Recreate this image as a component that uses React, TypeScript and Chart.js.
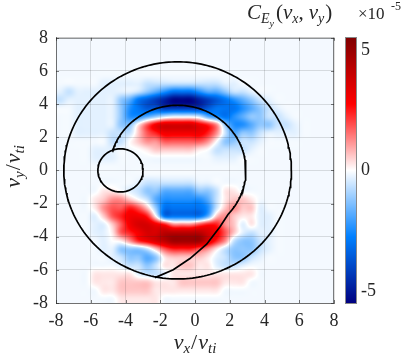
import React, { useEffect, useRef } from 'react';
import { Chart, registerables } from 'chart.js';

Chart.register(...registerables);

// ---------- data ----------
const AXIS_TICKS = [-8, -6, -4, -2, 0, 2, 4, 6, 8];
const CB_TICKS = [-5, 0, 5];
const CB_MIN = -5.5;
const CB_MAX = 5.5;
const CB_EXPONENT = '-5';

// correlation grid, cell centres x = -7.75..7.75, y = 7.75 (first row) .. -7.75 (last row), step 0.5
// '.' = -0.12, 'q' = -0.3, 'p' = 0.25, '0'..'9' = 0.6*k, 'a'..'i' = -0.6*k   (units of 1e-5)
const GRID_X_FIRST = -7.75;
const GRID_Y_FIRST = 7.75;
const GRID_STEP = 0.5;
const CORR_ROWS = [
  '................................',
  '................................',
  '................................',
  '................................',
  '................................',
  '.....qqqqqaaaaaaaaaqq...........',
  'qaqqqqqqqabcdeeedccbaaq.........',
  'aqqqqqqbcefghiiihgfedcbaq.......',
  '..qqqqqbdeffgggggfeeedcbaq......',
  '..qqqqqbddcbaqqqacdedcbbaaq.....',
  '..qqqqqbbp356666542bddcbbaaq....',
  '..qqqqaaa1345555542acbbaqqqq....',
  '......aa01223333320bbaaq........',
  '....qqq..0p11111p0aaaaq.........',
  '....qqq...........qqq...........',
  '................................',
  '................................',
  '.........qaaaaaaqq..............',
  '.....pp0qabbccccbbapp...........',
  '....p12210acdddddcap11p.........',
  '....p233431beeeeeda1211q........',
  '....q1345540eeeeec121ppqq.......',
  '....qq135665422234421qpqq.......',
  '....qqp34566777776531qaqq.......',
  '.....q0p245678888642abbaq.......',
  '.....qqbbba1344432pabbbaq.......',
  '......qabbcbp1111pqabbaq........',
  '.......qaabapp11ppqaaq..........',
  '....pppppqaaqpppppppppp.........',
  '....ppp1111ppp11111ppp..........',
  '.....pp1111pppppppp.............',
  '.......ppppp....................',
];

// overlay curves (data units)
const BIG_CIRCLE = { cx: -1, cy: 0, r: 6.55 };
const SMALL_CIRCLE = { cx: -4.29, cy: 0, r: 1.3 };
const INNER_ARC = { cx: -1, cy: 0, r: 3.93, fromDeg: 163, toDeg: -42 };
const INNER_TAIL_X = [1.92, 1.44, 0.67, -0.29, -1.25, -2.3];
const INNER_TAIL_Y = [-2.63, -3.4, -4.45, -5.32, -5.99, -6.47];

// ---------- helpers ----------
function levelOf(ch: string): number {
  if (ch === '.') return -0.12;
  if (ch === 'q') return -0.3;
  if (ch === 'p') return 0.25;
  if (ch >= '0' && ch <= '9') return 0.6 * Number(ch);
  const k = ch.charCodeAt(0) - 96;
  return -0.6 * k;
}
const GRID: number[][] = CORR_ROWS.map((row) => row.split('').map(levelOf));
const NR = GRID.length;
const NC = GRID[0].length;

function cell(r: number, c: number): number {
  const rr = Math.max(0, Math.min(NR - 1, r));
  const cc = Math.max(0, Math.min(NC - 1, c));
  return GRID[rr][cc];
}
function cubic(p0: number, p1: number, p2: number, p3: number, t: number): number {
  return p1 + 0.5 * t * (p2 - p0 + t * (2 * p0 - 5 * p1 + 4 * p2 - p3 + t * (3 * (p1 - p2) + p3 - p0)));
}
function sampleGrid(gx: number, gy: number): number {
  const i = Math.floor(gx), j = Math.floor(gy);
  const fx = gx - i, fy = gy - j;
  const rows: number[] = [];
  for (let m = -1; m <= 2; m++) {
    rows.push(cubic(cell(j + m, i - 1), cell(j + m, i), cell(j + m, i + 1), cell(j + m, i + 2), fx));
  }
  return cubic(rows[0], rows[1], rows[2], rows[3], fy);
}

function cmap(v: number): [number, number, number] {
  let t = Math.max(-1, Math.min(1, v / CB_MAX));
  if (t >= 0) {
    if (t <= 0.5) {
      const f = t / 0.5;
      return [255, 255 * (1 - f), 255 * (1 - f)];
    }
    const f = (t - 0.5) / 0.5;
    return [255 - 127 * f, 0, 0];
  }
  t = -t;
  if (t <= 0.5) {
    const f = t / 0.5;
    return [255 * (1 - f), 255 - 127 * f, 255];
  }
  const f = (t - 0.5) / 0.5;
  return [0, 128 * (1 - f), 255 - 127 * f];
}

function circlePoints(cx: number, cy: number, r: number, a0: number, a1: number, n: number) {
  const pts: { x: number; y: number }[] = [];
  for (let k = 0; k <= n; k++) {
    const a = ((a0 + ((a1 - a0) * k) / n) * Math.PI) / 180;
    pts.push({ x: cx + r * Math.cos(a), y: cy + r * Math.sin(a) });
  }
  return pts;
}

const SERIF = 'Liberation Serif, DejaVu Serif, serif';
const TEXT_COLOR = '#262626';

type Seg = { t: string; size: number; italic?: boolean; dy?: number; dx?: number };
function drawMath(ctx: CanvasRenderingContext2D, segs: Seg[], x: number, y: number, align: 'left' | 'center') {
  const fontOf = (s: Seg) => `${s.italic ? 'italic ' : ''}${s.size}px ${SERIF}`;
  let total = 0;
  const widths = segs.map((s) => {
    ctx.font = fontOf(s);
    const w = ctx.measureText(s.t).width + (s.dx || 0);
    total += w;
    return w;
  });
  let cx = align === 'center' ? x - total / 2 : x;
  segs.forEach((s, i) => {
    ctx.font = fontOf(s);
    ctx.fillText(s.t, cx + (s.dx || 0), y + (s.dy || 0));
    cx += widths[i];
  });
}

const X_TITLE: Seg[] = [
  { t: 'v', size: 22, italic: true },
  { t: 'x', size: 15, italic: true, dy: 4 },
  { t: '/', size: 22, dx: 1 },
  { t: 'v', size: 22, italic: true, dx: 1 },
  { t: 'ti', size: 15, italic: true, dy: 4 },
];
const Y_TITLE: Seg[] = [
  { t: 'v', size: 22, italic: true },
  { t: 'y', size: 15, italic: true, dy: 4 },
  { t: '/', size: 22, dx: 1 },
  { t: 'v', size: 22, italic: true, dx: 1 },
  { t: 'ti', size: 15, italic: true, dy: 4 },
];
const CB_TITLE: Seg[] = [
  { t: 'C', size: 21, italic: true },
  { t: 'E', size: 14, italic: true, dy: 4 },
  { t: 'y', size: 10, italic: true, dy: 8 },
  { t: '(', size: 21, dx: 2 },
  { t: 'v', size: 21, italic: true },
  { t: 'x', size: 14, italic: true, dy: 4 },
  { t: ',', size: 21 },
  { t: 'v', size: 21, italic: true, dx: 5 },
  { t: 'y', size: 14, italic: true, dy: 4 },
  { t: ')', size: 21, dx: 1 },
];

// ---------- plugins ----------
const heatmapPlugin = {
  id: 'heatmap',
  beforeDraw(chart: any) {
    const { ctx, chartArea: a, scales } = chart;
    const xs = scales.x, ys = scales.y;
    const left = Math.round(a.left), top = Math.round(a.top);
    const w = Math.round(a.right) - left, h = Math.round(a.bottom) - top;
    const img = ctx.createImageData(w, h);
    for (let j = 0; j < h; j++) {
      const vy = ys.getValueForPixel(top + j + 0.5);
      const gy = (GRID_Y_FIRST - vy) / GRID_STEP;
      for (let i = 0; i < w; i++) {
        const vx = xs.getValueForPixel(left + i + 0.5);
        const gx = (vx - GRID_X_FIRST) / GRID_STEP;
        const c = cmap(sampleGrid(gx, gy));
        const o = (j * w + i) * 4;
        img.data[o] = c[0];
        img.data[o + 1] = c[1];
        img.data[o + 2] = c[2];
        img.data[o + 3] = 255;
      }
    }
    ctx.putImageData(img, left, top);

    // colorbar
    const cb = scales.cb;
    const bx = cb.left + 12;
    const bw = 10;
    const y0 = Math.round(cb.top), y1 = Math.round(cb.bottom);
    for (let y = y0; y < y1; y++) {
      const c = cmap(cb.getValueForPixel(y + 0.5));
      ctx.fillStyle = `rgb(${c[0]},${c[1]},${c[2]})`;
      ctx.fillRect(bx, y, bw, 1);
    }
    ctx.strokeStyle = 'rgba(38,38,38,0.55)';
    ctx.lineWidth = 1;
    ctx.strokeRect(bx - 0.5, y0 - 0.5, bw + 1, y1 - y0 + 1);
  },
  afterDraw(chart: any) {
    const { ctx, chartArea: a, scales } = chart;
    ctx.save();
    ctx.strokeStyle = 'rgba(38,38,38,0.6)';
    ctx.lineWidth = 1;
    ctx.beginPath();
    ctx.moveTo(a.left, a.top + 0.5);
    ctx.lineTo(a.right, a.top + 0.5);
    ctx.moveTo(a.right - 0.5, a.top);
    ctx.lineTo(a.right - 0.5, a.bottom);
    AXIS_TICKS.forEach((v) => {
      const px = Math.round(scales.x.getPixelForValue(v)) + 0.5;
      const py = Math.round(scales.y.getPixelForValue(v)) + 0.5;
      ctx.moveTo(px, a.bottom);
      ctx.lineTo(px, a.bottom - 3);
      ctx.moveTo(px, a.top);
      ctx.lineTo(px, a.top + 3);
      ctx.moveTo(a.left, py);
      ctx.lineTo(a.left + 3, py);
      ctx.moveTo(a.right, py);
      ctx.lineTo(a.right - 3, py);
    });
    ctx.stroke();

    ctx.fillStyle = TEXT_COLOR;
    ctx.textBaseline = 'alphabetic';
    ctx.textAlign = 'left';
    drawMath(ctx, X_TITLE, (a.left + a.right) / 2, 349, 'center');
    ctx.save();
    ctx.translate(20, (a.top + a.bottom) / 2 - 4);
    ctx.rotate(-Math.PI / 2);
    drawMath(ctx, Y_TITLE, 0, 0, 'center');
    ctx.restore();
    drawMath(ctx, CB_TITLE, 247, 19, 'left');
    drawMath(ctx, [{ t: '\u00d710', size: 17 }], 358, 19, 'left');
    ctx.font = `12px ${SERIF}`;
    ctx.fillText(CB_EXPONENT, 391, 10);
    ctx.restore();
  },
};

const tickFont = { family: SERIF, size: 18 };

export default function App() {
  const ref = useRef<HTMLCanvasElement | null>(null);
  useEffect(() => {
    if (!ref.current) return;
    const inner = circlePoints(INNER_ARC.cx, INNER_ARC.cy, INNER_ARC.r, INNER_ARC.fromDeg, INNER_ARC.toDeg, 160).concat(
      INNER_TAIL_X.map((x, i) => ({ x, y: INNER_TAIL_Y[i] }))
    );
    const lineDs = (data: { x: number; y: number }[]) => ({
      type: 'scatter' as const,
      data,
      showLine: true,
      borderColor: '#000',
      borderWidth: 1.7,
      pointRadius: 0,
      tension: 0,
      fill: false,
    });
    const chart = new Chart(ref.current, {
      type: 'scatter',
      data: {
        datasets: [
          lineDs(circlePoints(BIG_CIRCLE.cx, BIG_CIRCLE.cy, BIG_CIRCLE.r, 0, 360, 240)),
          lineDs(circlePoints(SMALL_CIRCLE.cx, SMALL_CIRCLE.cy, SMALL_CIRCLE.r, 0, 360, 90)),
          lineDs(inner),
        ],
      },
      options: {
        responsive: false,
        animation: false,
        layout: { padding: { top: 25, left: 0, right: 0, bottom: 0 } },
        plugins: { legend: { display: false }, tooltip: { enabled: false } },
        scales: {
          x: {
            type: 'linear',
            position: 'bottom',
            min: -8,
            max: 8,
            afterBuildTicks: (s: any) => {
              s.ticks = AXIS_TICKS.map((value) => ({ value }));
            },
            afterFit: (s: any) => {
              s.height = 55;
            },
            grid: { color: 'rgba(38,38,38,0.15)', drawTicks: false, lineWidth: 1 },
            border: { display: true, color: 'rgba(38,38,38,0.6)', width: 1 },
            ticks: { font: tickFont, color: TEXT_COLOR, padding: 7, maxRotation: 0, autoSkip: false },
          },
          y: {
            type: 'linear',
            position: 'left',
            min: -8,
            max: 8,
            afterBuildTicks: (s: any) => {
              s.ticks = AXIS_TICKS.map((value) => ({ value }));
            },
            afterFit: (s: any) => {
              s.width = 56;
            },
            grid: { color: 'rgba(38,38,38,0.15)', drawTicks: false, lineWidth: 1 },
            border: { display: true, color: 'rgba(38,38,38,0.6)', width: 1 },
            ticks: { font: tickFont, color: TEXT_COLOR, padding: 8, autoSkip: false },
          },
          cb: {
            type: 'linear',
            position: 'right',
            min: CB_MIN,
            max: CB_MAX,
            afterBuildTicks: (s: any) => {
              s.ticks = CB_TICKS.map((value) => ({ value }));
            },
            afterFit: (s: any) => {
              s.width = 73;
            },
            grid: { display: false, drawTicks: false },
            border: { display: false },
            ticks: { font: tickFont, color: TEXT_COLOR, padding: 27, autoSkip: false },
          },
        },
      },
      plugins: [heatmapPlugin],
    } as any);
    return () => chart.destroy();
  }, []);
  return (
    <div style={{ position: 'fixed', left: 0, top: 0, width: 407, height: 358, background: '#fff' }}>
      <canvas ref={ref} width={407} height={358} style={{ display: 'block' }} />
    </div>
  );
}
